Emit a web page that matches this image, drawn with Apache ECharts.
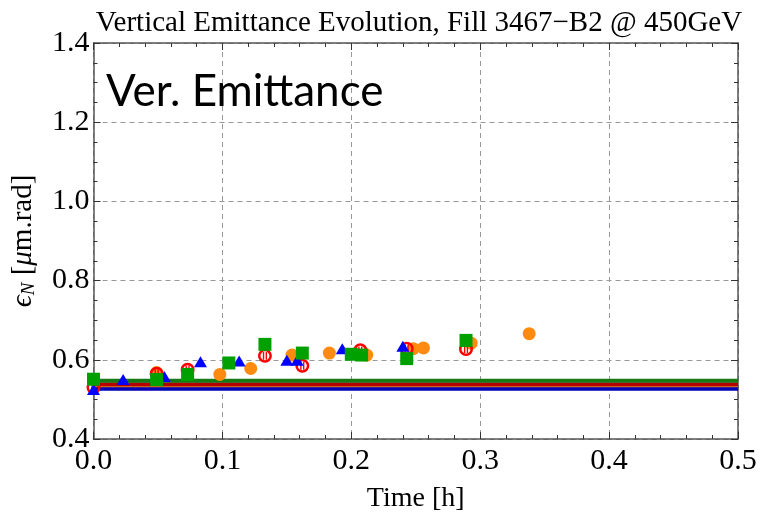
<!DOCTYPE html>
<html>
<head>
<meta charset="utf-8">
<script src="https://cdn.jsdelivr.net/npm/echarts@6/dist/echarts.min.js"></script>
<style>html,body{margin:0;padding:0;background:#fff;}#c{width:764px;height:518px;}</style>
</head>
<body>
<div id="c"></div>
<script>
// Data (time [h], emittance [um.rad])
var orangeX = [0.049, 0.098, 0.122, 0.154, 0.183, 0.212, 0.248, 0.256, 0.293, 0.338];
var orangeY = [0.568, 0.563, 0.578, 0.612, 0.617, 0.612, 0.628, 0.630, 0.642, 0.666];
var redX = [0.000, 0.049, 0.073, 0.133, 0.162, 0.207, 0.243, 0.289];
var redY = [0.530, 0.565, 0.575, 0.610, 0.585, 0.624, 0.628, 0.627];
var blueX = [0.000, 0.023, 0.055, 0.083, 0.113, 0.150, 0.158, 0.193, 0.240];
var blueY = [0.525, 0.550, 0.558, 0.595, 0.597, 0.599, 0.599, 0.628, 0.634];
var greenX = [0.000, 0.049, 0.073, 0.105, 0.133, 0.162, 0.200, 0.208, 0.243, 0.289];
var greenY = [0.551, 0.550, 0.563, 0.592, 0.639, 0.617, 0.614, 0.612, 0.603, 0.649];
// Horizontal reference levels
var lineNames = ['blue', 'orange', 'red', 'green'];
var lineLevels = [0.527, 0.533, 0.538, 0.547];
var lineSpan = [0.0, 0.5];
var xTicks = [0.0, 0.1, 0.2, 0.3, 0.4, 0.5];
var yTicks = [0.4, 0.6, 0.8, 1.0, 1.2, 1.4];

function pairs(xs, ys) { return xs.map(function (x, i) { return [x, ys[i]]; }); }

var lineColors = { blue: '#0000b4', orange: '#e08020', red: '#b40000', green: '#157a15' };
var markerPath = 'path://M50,0 A50,50 0 1,1 50,100 A50,50 0 1,1 50,0 Z M50,18 A32,32 0 1,0 50,82 A32,32 0 1,0 50,18 Z M35,22 L45,22 L45,78 L35,78 Z M55,22 L65,22 L65,78 L55,78 Z';

var serif = '"Liberation Serif", "DejaVu Serif", serif';
var chart = echarts.init(document.getElementById('c'), null, { renderer: 'canvas' });

var series = [];
lineNames.forEach(function (n, i) {
  series.push({
    type: 'line', name: n + ' level', xAxisIndex: 0, yAxisIndex: 0,
    data: lineSpan.map(function (x) { return [x, lineLevels[i]]; }),
    symbol: 'none', silent: true, z: 2,
    lineStyle: { color: lineColors[n], width: n === 'orange' ? 2 : 4 }
  });
});
series.push({
  type: 'scatter', name: 'orange', data: pairs(orangeX, orangeY), symbol: 'circle', symbolSize: 13,
  itemStyle: { color: '#ff8a10', opacity: 1 }, z: 3
});
series.push({
  type: 'scatter', name: 'red', data: pairs(redX, redY), symbol: markerPath, symbolSize: 14,
  itemStyle: { color: '#ff0000', opacity: 1 }, z: 4
});
series.push({
  type: 'scatter', name: 'blue', data: pairs(blueX, blueY), symbol: 'triangle', symbolSize: [13, 11],
  itemStyle: { color: '#0000ff', opacity: 1 }, z: 5
});
series.push({
  type: 'scatter', name: 'green', data: pairs(greenX, greenY), symbol: 'rect', symbolSize: 13,
  itemStyle: { color: '#00a000', opacity: 1 }, z: 6
});

function frameAxis(base) {
  return Object.assign({
    axisLine: { show: true, onZero: false, lineStyle: { color: '#555', width: 1.5 } },
    axisTick: { show: true, inside: true, length: 7, lineStyle: { color: '#333', width: 1 } }
  }, base);
}

var option = {
  animation: false,
  backgroundColor: '#fff',
  title: [
    { text: 'Vertical Emittance Evolution, Fill 3467\u2212B2 @ 450GeV', left: 414, top: 4, textAlign: 'center',
      textStyle: { fontFamily: serif, fontSize: 29, fontWeight: 'normal', color: '#000' } },
    { text: 'Ver. Emittance', left: 101, top: 65,
      textStyle: { fontFamily: 'Lato, "Open Sans", sans-serif', fontSize: 44, fontWeight: 'normal', color: '#000' } }
  ],
  grid: { left: 91, top: 43, right: 26, bottom: 75, containLabel: false },
  xAxis: [
    frameAxis({
      type: 'value', min: 0, max: 0.5, interval: 0.1, minorTick: { show: true, splitNumber: 5, length: 4, lineStyle: { color: '#333' } },
      name: 'Time [h]', nameLocation: 'middle', nameGap: 46,
      nameTextStyle: { fontFamily: serif, fontSize: 28, color: '#000' },
      axisLabel: { fontFamily: serif, fontSize: 30, color: '#000', margin: 7,
        formatter: function (v) { return v.toFixed(1); } },
      splitLine: { show: true, lineStyle: { color: '#999', type: [5, 4], width: 1 } }
    }),
    frameAxis({
      type: 'value', position: 'top', min: 0, max: 0.5, interval: 0.1,
      minorTick: { show: true, splitNumber: 5, length: 4, lineStyle: { color: '#333' } },
      axisLabel: { show: false }, splitLine: { show: false }
    })
  ],
  yAxis: [
    frameAxis({
      type: 'value', min: 0.4, max: 1.4, interval: 0.2,
      minorTick: { show: true, splitNumber: 4, length: 4, lineStyle: { color: '#333' } },
      name: '{e|\u03f5}{sub|N} [{i|\u03bc}m.rad]', nameLocation: 'middle', nameGap: 55, nameRotate: 90,
      nameTextStyle: { fontFamily: serif, fontSize: 29, color: '#000',
        rich: {
          e: { fontFamily: serif, fontSize: 30, fontStyle: 'italic', color: '#000' },
          sub: { fontFamily: serif, fontSize: 19, fontStyle: 'italic', color: '#000', verticalAlign: 'bottom', padding: [12, 0, 0, 0] },
          i: { fontFamily: serif, fontSize: 29, fontStyle: 'italic', color: '#000' }
        } },
      axisLabel: { fontFamily: serif, fontSize: 30, color: '#000', margin: 4,
        formatter: function (v) { return v.toFixed(1); } },
      splitLine: { show: true, lineStyle: { color: '#999', type: [5, 4], width: 1 } }
    }),
    frameAxis({
      type: 'value', position: 'right', min: 0.4, max: 1.4, interval: 0.2,
      minorTick: { show: true, splitNumber: 4, length: 4, lineStyle: { color: '#333' } },
      axisLabel: { show: false }, splitLine: { show: false }
    })
  ],
  series: series
};
chart.setOption(option);
</script>
</body>
</html>
